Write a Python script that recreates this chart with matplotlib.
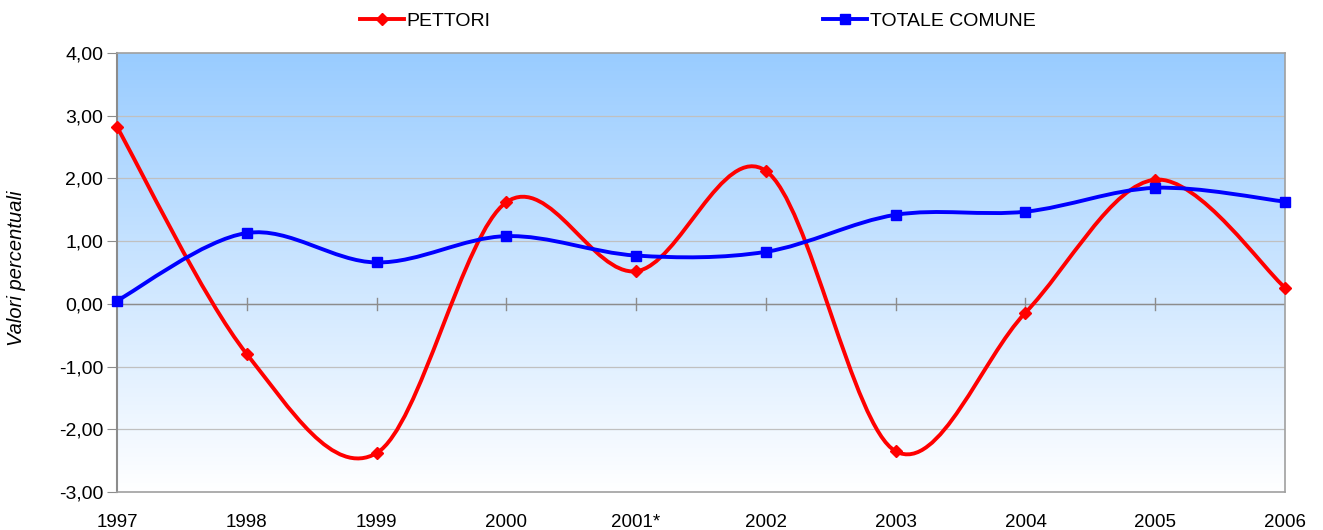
import numpy as np
import matplotlib.pyplot as plt
from matplotlib.path import Path
from matplotlib.patches import PathPatch
from matplotlib.colors import LinearSegmentedColormap

plt.rcParams['font.family'] = ['Liberation Sans', 'DejaVu Sans']

years = ["1997", "1998", "1999", "2000", "2001*", "2002", "2003", "2004", "2005", "2006"]
pettori = [2.82, -0.80, -2.38, 1.62, 0.52, 2.12, -2.35, -0.14, 1.98, 0.26]
totale = [0.05, 1.13, 0.66, 1.08, 0.77, 0.83, 1.42, 1.47, 1.85, 1.63]
y_ticks = [-3, -2, -1, 0, 1, 2, 3, 4]


def smooth_path(xs, ys):
    # Excel-style smoothed line: cubic bezier with catmull-rom control points
    pts = np.column_stack([xs, ys]).astype(float)
    n = len(pts)
    verts = [pts[0]]
    codes = [Path.MOVETO]
    for i in range(n - 1):
        p0 = pts[i - 1] if i > 0 else pts[i]
        p1 = pts[i]
        p2 = pts[i + 1]
        p3 = pts[i + 2] if i + 2 < n else pts[i + 1]
        c1 = p1 + (p2 - p0) / 6.0
        c2 = p2 - (p3 - p1) / 6.0
        verts += [c1, c2, p2]
        codes += [Path.CURVE4] * 3
    return Path(verts, codes)


fig = plt.figure(figsize=(13.23, 5.30), dpi=100)
ax = fig.add_axes([117 / 1323, 1 - 492 / 530, (1285 - 117) / 1323, (492 - 53) / 530])

x = np.arange(len(years))
ax.set_xlim(0, len(years) - 1)
ax.set_ylim(-3, 4)

# gradient background
cmap = LinearSegmentedColormap.from_list("bg", ["#ffffff", "#99ccff"])
grad = np.linspace(0, 1, 256).reshape(-1, 1)
ax.imshow(grad, cmap=cmap, aspect="auto", origin="lower",
          extent=[0, len(years) - 1, -3, 4], zorder=0)

for yv in y_ticks[1:-1]:
    ax.axhline(yv, color="#c0c0c0", lw=0.9, zorder=1)
ax.axhline(0, color="#8c8c8c", lw=1.0, zorder=1)
for xi in x[1:-1]:
    ax.plot([xi, xi], [-0.1, 0.1], color="#8c8c8c", lw=1.0, zorder=1)

for xs, ys, color, marker, ms, label in [
    (x, pettori, "#ff0000", "D", 6.5, "PETTORI"),
    (x, totale, "#0000ff", "s", 7.5, "TOTALE COMUNE"),
]:
    ax.add_patch(PathPatch(smooth_path(xs, ys), fill=False, edgecolor=color,
                           lw=2.8, zorder=3))
    ax.plot(xs, ys, linestyle="none", marker=marker, ms=ms, color=color,
            zorder=4, clip_on=False)
    ax.plot([], [], color=color, lw=2.8, marker=marker, ms=ms, label=label)

for side in ["top", "right", "bottom"]:
    ax.spines[side].set_color("#a0a0a0")
    ax.spines[side].set_linewidth(1.2)
ax.spines["left"].set_color("#8c8c8c")
ax.spines["left"].set_linewidth(1.5)

ax.set_yticks(y_ticks)
ax.set_yticklabels([f"{v:.2f}".replace(".", ",") for v in y_ticks], fontsize=14)
ax.tick_params(axis="y", length=7, color="#8c8c8c", pad=3)
ax.set_xticks(x)
ax.set_xticklabels(years, fontsize=13.5)
ax.tick_params(axis="x", length=0, pad=16)
fig.text(17 / 1323, 1 - 268 / 530, "Valori percentuali", fontsize=14.5,
         style="italic", rotation=90, ha="center", va="center")

fig.legend(loc="upper left", bbox_to_anchor=(360 / 1323, 1 - 12 / 530), ncol=2,
           frameon=False, fontsize=14, columnspacing=17.1, handlelength=2.25,
           handletextpad=0.15, borderpad=0, borderaxespad=0)

fig.savefig("out.png", dpi=100)
